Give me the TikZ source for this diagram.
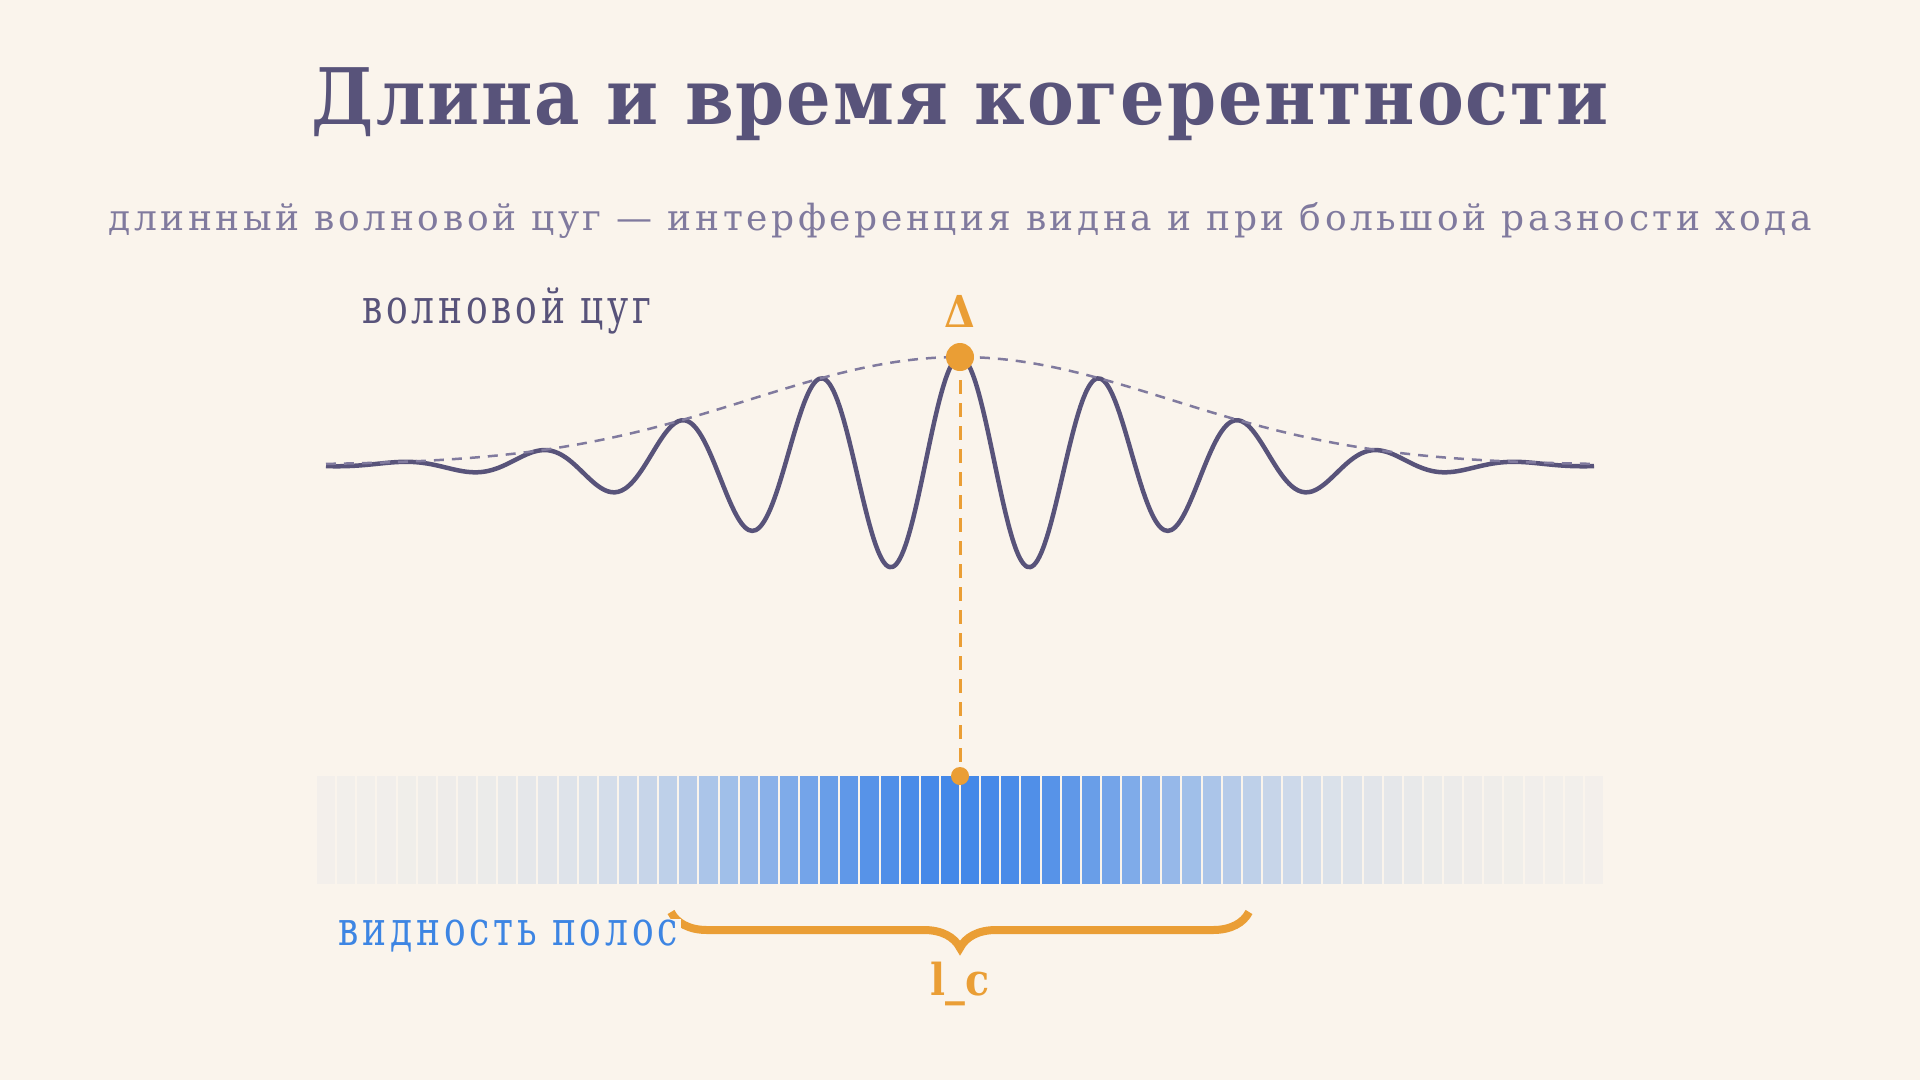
\documentclass[tikz,border=0pt]{standalone}
\usepackage{fontspec}
\usepackage{tikz}
\usetikzlibrary{decorations.pathreplacing}

\setmainfont{DejaVu Serif}
\newfontfamily\headfont[LetterSpace=2.5]{DejaVu Serif Condensed Bold}
\newfontfamily\markfont{DejaVu Serif Condensed Bold}
\newfontfamily\subfont[LetterSpace=10]{DejaVu Serif}
\newfontfamily\labelfont[FakeStretch=0.75,LetterSpace=8]{DejaVu Serif}

\definecolor{bgcream}{HTML}{FAF4EC}
\definecolor{ink}{HTML}{58537A}
\definecolor{inklight}{HTML}{807A9E}
\definecolor{amber}{HTML}{EA9E35}
\definecolor{fringeblue}{HTML}{4488E8}
\definecolor{fringegray}{HTML}{EBEBEA}
\definecolor{textblue}{HTML}{3D85E3}

\begin{document}
\begin{tikzpicture}[x=1pt,y=-1pt,
  every node/.style={inner sep=0pt},
  wave/.style={ink, line width=4.5pt, line join=round},
  envelope/.style={inklight, line width=2.5pt, dash pattern=on 10pt off 8pt},
  marker/.style={amber, line width=3pt, dash pattern=on 14pt off 9pt}]
% Background
\fill[bgcream] (0,0) rectangle (1920,1080);
\useasboundingbox (0,0) rectangle (1920,1080);

% Titles
\node[anchor=base, ink, font=\headfont\fontsize{78}{90}\selectfont] (title) at (960,124) {Длина и время когерентности};
\node[anchor=base, inklight, font=\subfont\fontsize{36}{42}\selectfont] (subtitle) at (960,230) {длинный волновой цуг — интерференция видна и при большой разности хода};

% Wave train
\node[anchor=base west, ink, font=\labelfont\fontsize{48}{56}\selectfont] (trainlabel) at (362,323) {волновой цуг};
\draw[wave] plot[domain=-634:634, samples=361, smooth] ({960+\x}, {465-108*exp(-0.5*(\x/210)*(\x/210))*cos(\x/140*360)});
\draw[envelope] plot[domain=-634:634, samples=81, smooth] ({960+\x}, {465-108*exp(-0.5*(\x/210)*(\x/210))});

% Fringes
\foreach \i in {0,...,63} {
  \pgfmathsetmacro\xl{316+\i*20.125}
  \pgfmathsetmacro\dd{\xl+10.0625-960}
  \pgfmathsetmacro\vis{100*exp(-0.5*(\dd/200)*(\dd/200))}
  \pgfmathsetmacro\fade{0.15+0.85*exp(-0.5*(\dd/420)*(\dd/420))}
  \fill[fringeblue!\vis!fringegray, fill opacity=\fade] (\xl+1,776) rectangle (\xl+19.125,884);
}

% Marker
\coordinate (peak) at (960,357);
\coordinate (fringe) at (960,776);
\draw[marker] (peak) -- (fringe);
\fill[amber] (peak) circle[radius=14];
\fill[amber] (fringe) circle[radius=9];
\node[anchor=base, amber, font=\markfont\fontsize{44}{50}\selectfont] (delta) at (960,327) {Δ};

% Coherence length
\coordinate (lcleft) at (671,912);
\coordinate (lcright) at (1249,912);
\draw[amber, line width=8pt, decorate, decoration={brace, mirror, amplitude=36pt}] (lcleft) -- (lcright);
\node[anchor=base west, fill=bgcream, inner xsep=3pt, text=textblue, font=\labelfont\fontsize{48}{56}\selectfont] (vislabel) at (335,945) {видность полос};
\node[anchor=base, amber, font=\markfont\fontsize{44}{50}\selectfont] (lc) at (960,995) {l\_c};
\end{tikzpicture}
\end{document}
